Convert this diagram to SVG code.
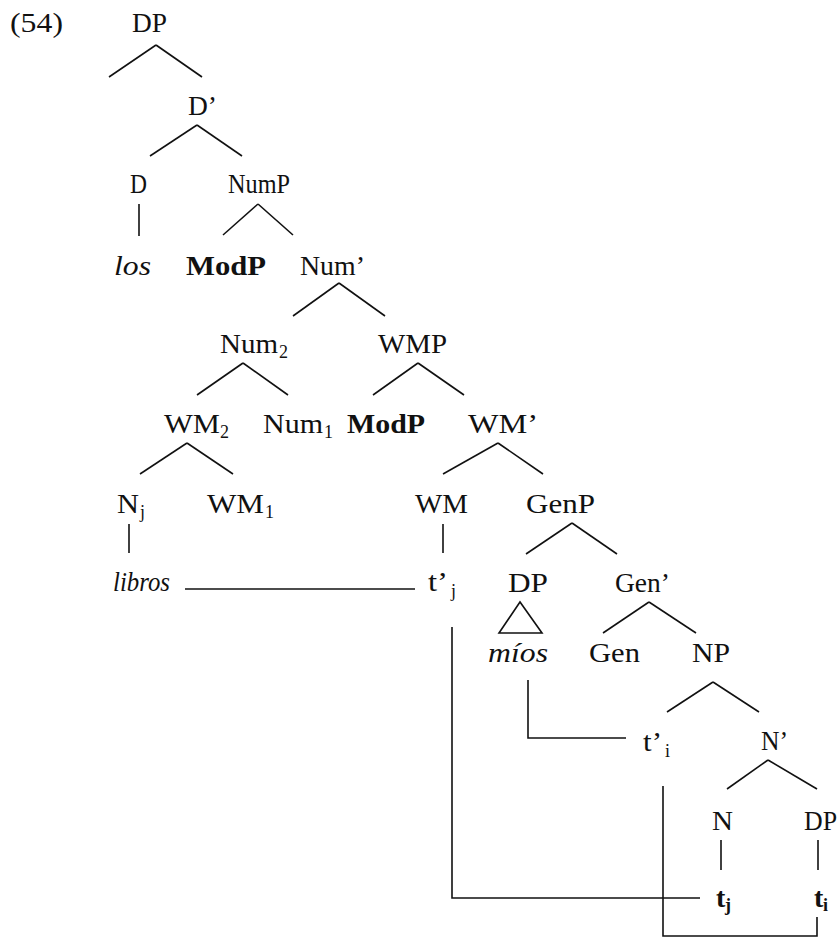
<svg xmlns="http://www.w3.org/2000/svg" width="838" height="937" viewBox="0 0 838 937">
<style>
text{font-family:"Liberation Serif","Times New Roman",serif;font-size:28px;fill:#111}
text.s{font-size:18px}
.i{font-style:italic}
.b{font-weight:bold}
line,path,polygon{stroke:#111;stroke-width:1.6;fill:none}
</style>
<rect width="838" height="937" fill="#fff"/>
<text id="ex" x="10" y="32" textLength="53" lengthAdjust="spacingAndGlyphs">(54)</text>
<g id="n-DP"><text x="132" y="32" textLength="35" lengthAdjust="spacingAndGlyphs">DP</text><line x1="156" y1="45" x2="109" y2="77"/><line x1="156" y1="45" x2="202" y2="77"/></g>
<g id="n-Dbar"><text x="188" y="115" textLength="29" lengthAdjust="spacingAndGlyphs">D’</text><line x1="197" y1="125" x2="150" y2="156"/><line x1="197" y1="125" x2="242" y2="156"/></g>
<g id="n-D"><text x="130" y="193" textLength="17" lengthAdjust="spacingAndGlyphs">D</text><line x1="139" y1="204" x2="139" y2="236"/></g>
<g id="n-NumP"><text x="228" y="193" textLength="62" lengthAdjust="spacingAndGlyphs">NumP</text><line x1="258" y1="204" x2="223" y2="235"/><line x1="258" y1="204" x2="293" y2="235"/></g>
<g id="n-los"><text class="i" x="114" y="275" textLength="37" lengthAdjust="spacingAndGlyphs">los</text></g>
<g id="n-ModP1"><text class="b" x="186" y="275" textLength="80" lengthAdjust="spacingAndGlyphs">ModP</text></g>
<g id="n-Numbar"><text x="300" y="275" textLength="65" lengthAdjust="spacingAndGlyphs">Num’</text><line x1="339" y1="283" x2="293" y2="316"/><line x1="339" y1="283" x2="385" y2="316"/></g>
<g id="n-Num2"><text x="220" y="353" textLength="58" lengthAdjust="spacingAndGlyphs">Num</text><text class="s" x="279" y="358">2</text><line x1="243" y1="363" x2="197" y2="395"/><line x1="243" y1="363" x2="288" y2="395"/></g>
<g id="n-WMP"><text x="378" y="353" textLength="69" lengthAdjust="spacingAndGlyphs">WMP</text><line x1="418" y1="363" x2="373" y2="395"/><line x1="418" y1="363" x2="464" y2="395"/></g>
<g id="n-WM2"><text x="164" y="433" textLength="56" lengthAdjust="spacingAndGlyphs">WM</text><text class="s" x="220" y="438">2</text><line x1="187" y1="443" x2="140" y2="474"/><line x1="187" y1="443" x2="233" y2="474"/></g>
<g id="n-Num1"><text x="263" y="433" textLength="60" lengthAdjust="spacingAndGlyphs">Num</text><text class="s" x="324" y="438">1</text></g>
<g id="n-ModP2"><text class="b" x="347" y="433" textLength="78" lengthAdjust="spacingAndGlyphs">ModP</text></g>
<g id="n-WMbar"><text x="468" y="433" textLength="70" lengthAdjust="spacingAndGlyphs">WM’</text><line x1="498" y1="443" x2="443" y2="474"/><line x1="498" y1="443" x2="543" y2="474"/></g>
<g id="n-Nj"><text x="117" y="513" textLength="22" lengthAdjust="spacingAndGlyphs">N</text><text class="s" x="140" y="518">j</text><line x1="129" y1="524" x2="129" y2="553"/></g>
<g id="n-WM1"><text x="207" y="513" textLength="57" lengthAdjust="spacingAndGlyphs">WM</text><text class="s" x="265" y="518">1</text></g>
<g id="n-WM"><text x="415" y="513" textLength="53" lengthAdjust="spacingAndGlyphs">WM</text><line x1="443" y1="524" x2="443" y2="553"/></g>
<g id="n-GenP"><text x="526" y="513" textLength="69" lengthAdjust="spacingAndGlyphs">GenP</text><line x1="572" y1="523" x2="526" y2="554"/><line x1="572" y1="523" x2="617" y2="554"/></g>
<g id="n-libros"><text class="i" x="113" y="591" textLength="57" lengthAdjust="spacingAndGlyphs">libros</text></g>
<g id="n-tj1"><text x="428" y="591" textLength="20" lengthAdjust="spacingAndGlyphs">t’</text><text class="s" x="451" y="597">j</text></g>
<g id="n-DP2"><text x="508" y="592" textLength="40" lengthAdjust="spacingAndGlyphs">DP</text><polygon points="520,602 499,633 542,633"/></g>
<g id="n-Genbar"><text x="615" y="592" textLength="55" lengthAdjust="spacingAndGlyphs">Gen’</text><line x1="649" y1="602" x2="603" y2="633"/><line x1="649" y1="602" x2="696" y2="633"/></g>
<g id="n-mios"><text class="i" x="488" y="662" textLength="60" lengthAdjust="spacingAndGlyphs">míos</text></g>
<g id="n-Gen"><text x="589" y="662" textLength="51" lengthAdjust="spacingAndGlyphs">Gen</text></g>
<g id="n-NP"><text x="692" y="662" textLength="38" lengthAdjust="spacingAndGlyphs">NP</text><line x1="713" y1="682" x2="667" y2="712"/><line x1="713" y1="682" x2="759" y2="712"/></g>
<g id="n-ti1"><text x="643" y="751" textLength="19" lengthAdjust="spacingAndGlyphs">t’</text><text class="s" x="665" y="757">i</text></g>
<g id="n-Nbar"><text x="761" y="750" textLength="27" lengthAdjust="spacingAndGlyphs">N’</text><line x1="768" y1="760" x2="727" y2="789"/><line x1="768" y1="760" x2="817" y2="789"/></g>
<g id="n-N"><text x="712" y="830" textLength="21" lengthAdjust="spacingAndGlyphs">N</text><line x1="721" y1="840" x2="721" y2="870"/></g>
<g id="n-DP3"><text x="804" y="830" textLength="33" lengthAdjust="spacingAndGlyphs">DP</text><line x1="818" y1="840" x2="818" y2="870"/></g>
<g id="n-tj"><text class="b" x="716" y="907">t</text><text class="s b" x="725" y="911">j</text></g>
<g id="n-ti"><text class="b" x="814" y="907">t</text><text class="s b" x="823" y="911">i</text></g>
<g id="connectors">
<path d="M185,589 H415"/>
<path d="M452,627 V898 H700"/>
<path d="M528,680 V738 H626"/>
<path d="M663,786 V936 H817 V917"/>
</g>
</svg>
